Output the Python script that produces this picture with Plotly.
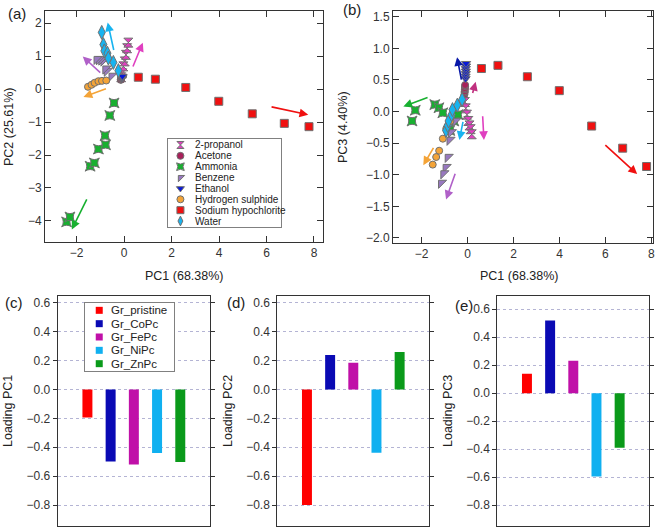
import plotly.graph_objects as go

W, H = 661, 528

# ---------------- Score data (PC1, PC2, PC3) ----------------
analytes = ["2-propanol", "Acetone", "Ammonia", "Benzene", "Ethanol",
            "Hydrogen sulphide", "Sodium hypochlorite", "Water"]
symbols = ["hourglass", "circle", "star-square", "triangle-nw", "triangle-down",
           "circle", "square", "diamond-tall"]
marker_sizes = [9, 7, 9, 9, 8, 7, 8, 10]
colors = ["#E040C0", "#A8205A", "#18B030", "#9878C0", "#0818D8",
          "#F4A438", "#F01010", "#18B4F0"]

propanol_pc1 = [-0.12, -0.08, -0.03, 0.03, 0.08, 0.13, 0.18]
propanol_pc2 = [0.36, 0.48, 0.69, 0.84, 1.04, 1.24, 1.41]
propanol_pc3 = [0.15, 0.05, -0.05, -0.15, -0.22, -0.28, -0.36]

acetone_pc1 = [-0.14, -0.13, -0.13, -0.12, -0.12, -0.11, -0.11]
acetone_pc2 = [0.28, 0.29, 0.30, 0.31, 0.32, 0.33, 0.34]
acetone_pc3 = [0.27, 0.30, 0.32, 0.35, 0.37, 0.40, 0.42]

ammonia_pc1 = [-2.42, -2.28, -1.43, -1.25, -1.08, -0.80, -0.78, -0.60, -0.42]
ammonia_pc2 = [-4.03, -3.88, -2.34, -2.24, -1.82, -1.41, -1.69, -0.80, -0.42]
ammonia_pc3 = [-0.15, 0.02, 0.11, 0.06, -0.02, -0.28, -0.30, -0.15, -0.05]

benzene_pc1 = [-0.52, -0.72, -0.78, -0.86, -0.95, -1.05, -1.15]
benzene_pc2 = [0.40, 0.55, 0.62, 0.86, 0.89, 0.90, 0.91]
benzene_pc3 = [-0.15, -0.33, -0.45, -0.72, -0.88, -0.98, -1.13]

ethanol_pc1 = [-0.09, -0.09, -0.08, -0.08, -0.08, -0.07, -0.07]
ethanol_pc2 = [0.33, 0.34, 0.35, 0.36, 0.37, 0.38, 0.39]
ethanol_pc3 = [0.52, 0.56, 0.60, 0.64, 0.68, 0.72, 0.76]

h2s_pc1 = [-1.52, -1.37, -1.24, -1.08, -0.93, -0.75]
h2s_pc2 = [0.07, 0.13, 0.19, 0.24, 0.25, 0.26]
h2s_pc3 = [-0.84, -0.72, -0.62, -0.43, -0.27, -0.15]

naocl_pc1 = [0.60, 1.32, 2.60, 3.99, 5.40, 6.75, 7.79]
naocl_pc2 = [0.36, 0.30, 0.05, -0.37, -0.75, -1.04, -1.14]
naocl_pc3 = [0.68, 0.73, 0.55, 0.33, -0.23, -0.58, -0.87]

water_pc1 = [-0.94, -0.87, -0.83, -0.70, -0.66, -0.45, -0.24]
water_pc2 = [1.72, 1.35, 1.16, 1.09, 0.94, 0.81, 0.56]
water_pc3 = [-0.30, -0.22, -0.15, -0.05, 0.03, 0.10, 0.19]

pc1_sets = [propanol_pc1, acetone_pc1, ammonia_pc1, benzene_pc1, ethanol_pc1, h2s_pc1, naocl_pc1, water_pc1]
pc2_sets = [propanol_pc2, acetone_pc2, ammonia_pc2, benzene_pc2, ethanol_pc2, h2s_pc2, naocl_pc2, water_pc2]
pc3_sets = [propanol_pc3, acetone_pc3, ammonia_pc3, benzene_pc3, ethanol_pc3, h2s_pc3, naocl_pc3, water_pc3]

# Arrows (tail_x, tail_y, head_x, head_y, colour)
arrows_a = [
    (-0.42, 1.14, -0.69, 2.02, "#18B4F0"),
    (0.35, 0.64, 0.79, 1.41, "#E040C0"),
    (-0.94, 0.46, -1.74, 0.99, "#B060C8"),
    (-0.70, 0.03, -1.71, -0.24, "#F4A438"),
    (-1.54, -3.30, -2.20, -4.26, "#18B030"),
    (6.15, -0.53, 7.76, -0.78, "#F01010"),
]
arrows_b = [
    (-0.26, 0.48, -0.46, 0.86, "#0818A8"),
    (0.20, 0.27, 0.35, 0.47, "#C0307F"),
    (-1.68, 0.23, -2.80, 0.08, "#18B030"),
    (-0.19, -0.14, -0.36, -0.45, "#18B4F0"),
    (0.65, -0.05, 0.71, -0.45, "#E040C0"),
    (-1.45, -0.55, -1.93, -0.85, "#F4A438"),
    (-0.52, -0.96, -0.94, -1.39, "#B060C8"),
    (5.93, -0.51, 7.38, -0.99, "#F01010"),
]

# ---------------- Loading data ----------------
sensors = ["Gr_pristine", "Gr_CoPc", "Gr_FePc", "Gr_NiPc", "Gr_ZnPc"]
sensor_colors = ["#FF0000", "#0A0AB4", "#C010A8", "#10B0F0", "#0A9A1A"]
loading_pc1 = [-0.194, -0.498, -0.519, -0.440, -0.503]
loading_pc2 = [-0.800, 0.237, 0.185, -0.438, 0.258]
loading_pc3 = [0.138, 0.520, 0.231, -0.596, -0.391]
sensor_pos = [0, 1, 2, 3, 4]

fig = go.Figure()

# Scatter panels
for i, name in enumerate(analytes):
    for xs, ys, xa, ya in [(pc1_sets[i], pc2_sets[i], "x", "y"), (pc1_sets[i], pc3_sets[i], "x2", "y2")]:
        fig.add_trace(go.Scatter(
            x=xs, y=ys, mode="markers", name=name,
            marker=dict(symbol=symbols[i], color=colors[i], size=marker_sizes[i],
                        line=dict(color="#707070", width=1)),
            xaxis=xa, yaxis=ya, showlegend=False))

# Bar panels
for k, loads, xa, ya in [(0, loading_pc1, "x3", "y3"), (1, loading_pc2, "x4", "y4"), (2, loading_pc3, "x5", "y5")]:
    for j, s in enumerate(sensors):
        fig.add_trace(go.Bar(
            x=[sensor_pos[j]], y=[loads[j]], name=s, width=0.43,
            marker=dict(color=sensor_colors[j], line=dict(width=0)),
            xaxis=xa, yaxis=ya, showlegend=False))

# Hand-drawn legend keys (rows in their own small axes)
for i, name in enumerate(analytes):
    fig.add_trace(go.Scatter(
        x=[0.11], y=[i], mode="markers", name=name, hoverinfo="skip",
        marker=dict(symbol=symbols[i], color=colors[i], size=7,
                    line=dict(color="#707070", width=1)),
        xaxis="x6", yaxis="y6", showlegend=False))
for j, s in enumerate(sensors):
    fig.add_trace(go.Scatter(
        x=[0.16], y=[j], mode="markers", name=s, hoverinfo="skip",
        marker=dict(symbol="square", color=sensor_colors[j], size=7, line=dict(width=0)),
        xaxis="x7", yaxis="y7", showlegend=False))

font = "Liberation Sans, Arial, sans-serif"
line_col = "#333333"

def score_x(dom, rng, anchor):
    return dict(domain=dom, range=rng, anchor=anchor, dtick=2, tick0=0, automargin=False,
                ticks="inside", ticklen=6, tickwidth=1, tickcolor=line_col,
                showline=True, linecolor=line_col, linewidth=1, mirror="ticks",
                showgrid=False, zeroline=False, tickfont=dict(size=12, color="#333"))

def score_y(dom, rng, anchor, dt, fmt):
    d = dict(domain=dom, range=rng, anchor=anchor, dtick=dt, tick0=0, automargin=False,
             ticks="inside", ticklen=6, tickwidth=1, tickcolor=line_col,
             showline=True, linecolor=line_col, linewidth=1, mirror="ticks",
             showgrid=False, zeroline=False, tickfont=dict(size=12, color="#333"))
    if fmt:
        d["tickformat"] = fmt
    return d

def bar_x(dom, anchor):
    return dict(domain=dom, range=[-1.28, 5.28], anchor=anchor, showticklabels=False,
                automargin=False, ticks="", showline=True, linecolor=line_col, linewidth=1,
                mirror=True, showgrid=False, zeroline=False)

def bar_y(dom, rng, anchor):
    return dict(domain=dom, range=rng, anchor=anchor, dtick=0.2, tick0=0, tickformat=".1f",
                automargin=False, ticks="outside", ticklen=4, tickwidth=1, tickcolor=line_col,
                showline=True, linecolor=line_col, linewidth=1, mirror="ticks",
                showgrid=True, gridcolor="#B4B4D4", griddash="dot", gridwidth=1,
                zeroline=False, tickfont=dict(size=12, color="#333"))

def legend_x(dom, anchor):
    return dict(domain=dom, range=[0, 1], anchor=anchor, showticklabels=False, ticks="",
                automargin=False, showline=True, linecolor="#808080", linewidth=1, mirror=True,
                showgrid=False, zeroline=False, fixedrange=True)

def legend_y(dom, n, anchor):
    return dict(domain=dom, range=[n - 0.45, -0.55], anchor=anchor, showticklabels=False,
                ticks="", automargin=False, showline=True, linecolor="#808080", linewidth=1,
                mirror=True, showgrid=False, zeroline=False, fixedrange=True)

ya_dom = [1 - 242 / H, 1 - 11 / H]
yb_dom = [1 - 243 / H, 1 - 11 / H]
ybar_dom = [1 - 526 / H, 1 - 295.7 / H]

fig.update_layout(
    template="none",
    width=W, height=H, margin=dict(l=0, r=0, t=0, b=0, pad=0),
    paper_bgcolor="white", plot_bgcolor="white",
    font=dict(family=font, color="#333"),
    barmode="overlay", showlegend=False,
    xaxis=score_x([45 / W, 323 / W], [-3.33, 8.38], "y"),
    yaxis=score_y(ya_dom, [-4.64, 2.37], "x", 1, None),
    xaxis2=score_x([393 / W, 653 / W], [-3.25, 8.07], "y2"),
    yaxis2=score_y(yb_dom, [-2.08, 1.59], "x2", 0.5, ".1f"),
    xaxis3=bar_x([57.7 / W, 210 / W], "y3"),
    yaxis3=bar_y(ybar_dom, [-0.945, 0.648], "x3"),
    xaxis4=bar_x([277.3 / W, 429.3 / W], "y4"),
    yaxis4=bar_y(ybar_dom, [-0.945, 0.648], "x4"),
    xaxis5=bar_x([497.3 / W, 649.3 / W], "y5"),
    yaxis5=bar_y(ybar_dom, [-0.95, 0.697], "x5"),
    xaxis6=legend_x([168 / W, 281 / W], "y6"),
    yaxis6=legend_y([1 - 227 / H, 1 - 139 / H], 8, "x6"),
    xaxis7=legend_x([85 / W, 174 / W], "y7"),
    yaxis7=legend_y([1 - 371 / H, 1 - 303 / H], 5, "x7"),
)

annotations = []
for (tx, ty, hx, hy, c) in arrows_a:
    annotations.append(dict(x=hx, y=hy, ax=tx, ay=ty, xref="x", yref="y", axref="x", ayref="y",
                            showarrow=True, arrowhead=2, arrowsize=1.1, arrowwidth=1.6,
                            arrowcolor=c, text=""))
for (tx, ty, hx, hy, c) in arrows_b:
    annotations.append(dict(x=hx, y=hy, ax=tx, ay=ty, xref="x2", yref="y2", axref="x2", ayref="y2",
                            showarrow=True, arrowhead=2, arrowsize=1.1, arrowwidth=1.6,
                            arrowcolor=c, text=""))

# Legend labels
for i, name in enumerate(analytes):
    annotations.append(dict(text=name, x=0.22, y=i, xref="x6", yref="y6", showarrow=False,
                            xanchor="left", yanchor="middle",
                            font=dict(size=10, color="#222", family=font)))
for j, s in enumerate(sensors):
    annotations.append(dict(text=s, x=0.27, y=j, xref="x7", yref="y7", showarrow=False,
                            xanchor="left", yanchor="middle",
                            font=dict(size=11.5, color="#222", family=font)))

def ptext(text, xpx, ypx, size=13, angle=0):
    annotations.append(dict(text=text, x=xpx / W, y=1 - ypx / H, xref="paper", yref="paper",
                            showarrow=False, textangle=angle, xanchor="center", yanchor="middle",
                            font=dict(size=size, color="#222", family=font)))

ptext("(a)", 17, 13, 15)
ptext("(b)", 352, 9, 15)
ptext("(c)", 14, 302, 15)
ptext("(d)", 236, 302, 15)
ptext("(e)", 464, 305, 15)
ptext("PC1 (68.38%)", 184, 276, 12.5)
ptext("PC1 (68.38%)", 519, 276, 12.5)
ptext("PC2 (25.61%)", 9, 127, 12.5, -90)
ptext("PC3 (4.40%)", 343, 127, 12.5, -90)
ptext("Loading PC1", 8, 411, 12.5, -90)
ptext("Loading PC2", 228, 411, 12.5, -90)
ptext("Loading PC3", 448, 411, 12.5, -90)

fig.update_layout(annotations=annotations)
fig.write_html("out.html", config={"displayModeBar": False},
               post_script="document.body.style.margin='0';document.body.style.padding='0';")
